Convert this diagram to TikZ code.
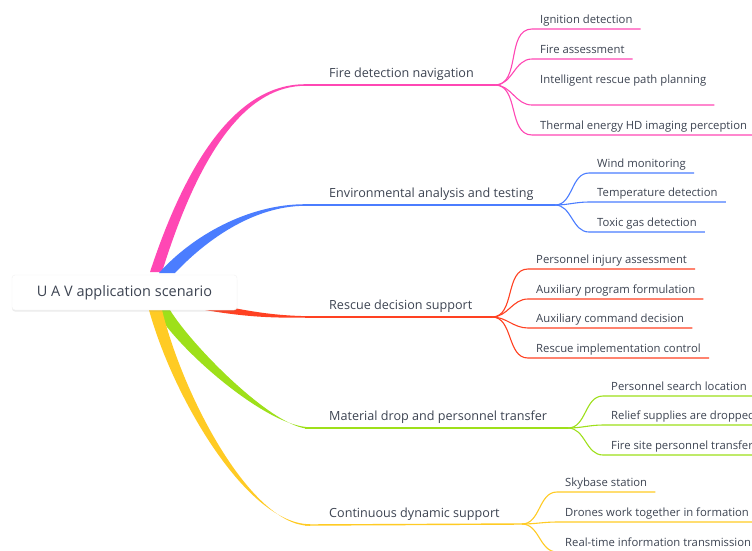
\documentclass[tikz,border=0pt]{standalone}
\usepackage{fontspec}
\setmainfont{Open Sans}
\usetikzlibrary{shadows}
\definecolor{ink}{HTML}{3D4452}
\definecolor{pk}{HTML}{FF47B4}
\definecolor{bl}{HTML}{4B7DFF}
\definecolor{rd}{HTML}{FF4122}
\definecolor{gr}{HTML}{9EE01A}
\definecolor{yl}{HTML}{FFCB24}

\begin{document}
\begin{tikzpicture}[x=1pt,y=-1pt,
  root/.style={draw=black!5,fill=white,rounded corners=3pt,minimum width=225pt,minimum height=35pt,
    text=ink,font=\fontsize{14.5}{17}\selectfont,
    drop shadow={opacity=.15,shadow xshift=0pt,shadow yshift=-1.5pt}},
  topic/.style={anchor=south west,inner xsep=24pt,inner ysep=3.5pt,text height=9.5pt,text depth=3.5pt,
    text=ink,font=\fontsize{12.6}{15}\selectfont},
  leaf/.style={anchor=south west,inner xsep=8pt,inner ysep=2pt,text height=9pt,text depth=3pt,
    text=ink,font=\fontsize{11.3}{14}\selectfont},
  stem/.style={line width=1.4pt},
  twig/.style={line width=1.1pt}]
\useasboundingbox[fill=white] (0,0) rectangle (752,550);

% tapered main branches
\fill[pk] (150,272) .. controls (194,138) and (248,84.2) .. (305,84.2) -- (305,85.8) .. controls (250,86) and (202,143) .. (162,272) -- cycle;
\fill[bl] (159,273) .. controls (192,236) and (248,204.2) .. (305,204.2) -- (305,205.8) .. controls (252,206) and (204,242) .. (175,273) -- cycle;
\fill[rd] (205,302) .. controls (255,313) and (280,316.3) .. (320,316.3) -- (320,317.7) .. controls (280,317.7) and (255,318.5) .. (205,310) -- cycle;
\fill[gr] (155,310) .. controls (180,352) and (268,427.2) .. (310,427.2) -- (310,428.8) .. controls (274,429) and (192,346) .. (170,310) -- cycle;
\fill[yl] (149,310) .. controls (174,400) and (248,524.2) .. (310,524.2) -- (310,525.8) .. controls (252,526) and (184,399) .. (162,310) -- cycle;

\node[root] (uav) at (124.5,292.5) {U A V application scenario};

% topics and forks
\node[topic] (fire) at (305,85) {Fire detection navigation};
\node[topic] (env) at (305,205) {Environmental analysis and testing};
\node[topic] (resc) at (305,317) {Rescue decision support};
\node[topic] (mat) at (305,428) {Material drop and personnel transfer};
\node[topic] (cont) at (305,525) {Continuous dynamic support};
\coordinate (firef) at (495,85);
\coordinate (envf) at (555,205);
\coordinate (rescf) at (492,317);
\coordinate (matf) at (568,428);
\coordinate (contf) at (522,524);
\draw[pk,stem] (fire.south west) -- (firef);
\draw[bl,stem] (env.south west) -- (envf);
\draw[rd,stem] (resc.south west) -- (rescf);
\draw[gr,stem] (mat.south west) -- (matf);
\draw[yl,stem] (cont.south west) -- (contf);

% leaves
\foreach \n/\t/\y in {fire1/Ignition detection/29,fire2/Fire assessment/59,fire4/Thermal energy HD imaging perception/135}{
  \node[leaf] (\n) at (532,\y) {\t};
  \draw[pk,twig] (firef) to[out=0,in=180] (\n.south west) -- (\n.south east);
}
\node[leaf,text depth=19pt] (fire3) at (532,105) {Intelligent rescue path planning};
\draw[pk,twig] (firef) to[out=0,in=180] (fire3.south west) -- (fire3.south east);

\foreach \t/\y [count=\i] in {Wind monitoring/173,Temperature detection/202,Toxic gas detection/232}{
  \node[leaf] (env\i) at (589,\y) {\t};
  \draw[bl,twig] (envf) to[out=0,in=180] (env\i.south west) -- (env\i.south east);
}
\foreach \t/\y [count=\i] in {Personnel injury assessment/269,Auxiliary program formulation/299,Auxiliary command decision/328,Rescue implementation control/358}{
  \node[leaf] (resc\i) at (528,\y) {\t};
  \draw[rd,twig] (rescf) to[out=0,in=180] (resc\i.south west) -- (resc\i.south east);
}
\foreach \t/\y [count=\i] in {Personnel search location/396,Relief supplies are dropped/425,Fire site personnel transfer/455}{
  \node[leaf] (mat\i) at (603,\y) {\t};
  \draw[gr,twig] (matf) to[out=0,in=180] (mat\i.south west) -- (mat\i.south east);
}
\foreach \t/\y [count=\i] in {Skybase station/492,Drones work together in formation/522,Real-time information transmission/552}{
  \node[leaf] (cont\i) at (557,\y) {\t};
  \draw[yl,twig] (contf) to[out=0,in=180] (cont\i.south west) -- (cont\i.south east);
}
\end{tikzpicture}
\end{document}
